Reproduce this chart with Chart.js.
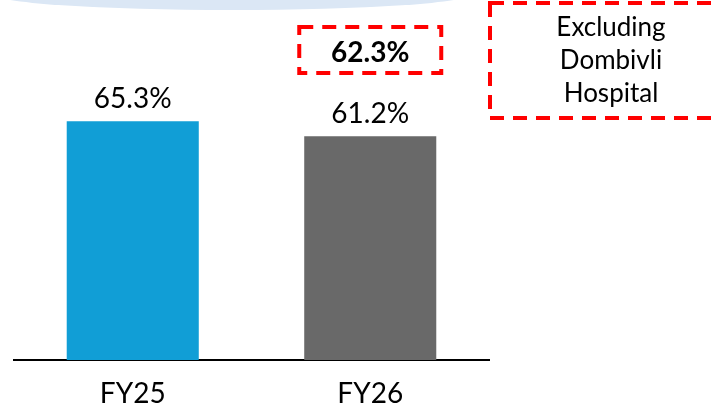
<!DOCTYPE html>
<html>
<head>
<meta charset="utf-8">
<script src="https://cdn.jsdelivr.net/npm/chart.js@4.4.0/dist/chart.umd.min.js"></script>
<style>
  html, body { margin: 0; padding: 0; background: #ffffff; }
  #wrap { width: 718px; height: 411px; }
</style>
</head>
<body>
<div id="wrap"><canvas id="c" width="718" height="411"></canvas></div>
<script>
// ---- data ----
const categories = ['FY25', 'FY26'];
const values = [65.3, 61.2];
const excludingDombivli = [null, 62.3];
const noteLines = ['Excluding', 'Dombivli', 'Hospital'];

const FONT = 'Lato, "Open Sans", sans-serif';

const decorPlugin = {
  id: 'decor',
  beforeDraw(chart) {
    const ctx = chart.ctx;
    ctx.save();
    // light blue banner shape at top
    ctx.fillStyle = '#dbe7f5';
    ctx.beginPath();
    ctx.ellipse(232, -6, 240, 16, 0, 0, Math.PI * 2);
    ctx.fill();
    ctx.restore();
  },
  afterDatasetsDraw(chart) {
    const ctx = chart.ctx;
    const meta = chart.getDatasetMeta(0);
    ctx.save();
    ctx.fillStyle = '#000000';
    ctx.textAlign = 'center';
    ctx.textBaseline = 'alphabetic';
    ctx.font = '28px ' + FONT;
    meta.data.forEach((bar, i) => {
      ctx.fillText(values[i].toFixed(1) + '%', bar.x, bar.y - 13);
    });
    // excluding value labels with dashed boxes
    excludingDombivli.forEach((v, i) => {
      if (v === null) return;
      const bar = meta.data[i];
      ctx.font = 'bold 28px ' + FONT;
      ctx.fillStyle = '#000000';
      ctx.fillText(v.toFixed(1) + '%', bar.x, 62);
      ctx.strokeStyle = '#ff0000';
      ctx.lineWidth = 4;
      ctx.setLineDash([14, 9]);
      ctx.strokeRect(bar.x - 71, 27, 142, 46);
    });
    // note box
    ctx.setLineDash([14, 9]);
    ctx.strokeStyle = '#ff0000';
    ctx.lineWidth = 4;
    ctx.strokeRect(490, 3, 260, 115);
    ctx.setLineDash([]);
    ctx.font = '26px ' + FONT;
    ctx.fillStyle = '#000000';
    noteLines.forEach((t, k) => {
      ctx.fillText(t, 611, 36 + k * 33);
    });
    ctx.restore();
  }
};

new Chart(document.getElementById('c'), {
  type: 'bar',
  data: {
    labels: categories,
    datasets: [{
      data: values,
      backgroundColor: ['#119ed6', '#696969'],
      borderWidth: 0,
      categoryPercentage: 1,
      barPercentage: 0.556
    }]
  },
  options: {
    responsive: false,
    devicePixelRatio: 1,
    animation: false,
    layout: { padding: { left: 14, right: 229, top: 31, bottom: 0 } },
    plugins: { legend: { display: false }, tooltip: { enabled: false } },
    scales: {
      y: { display: false, min: 0, max: 90 },
      x: {
        grid: { display: false, drawTicks: false },
        border: { display: true, color: '#000000', width: 2 },
        ticks: { color: '#000000', font: { family: FONT, size: 28 }, padding: 17 },
        afterFit(scale) { scale.height = 51; }
      }
    }
  },
  plugins: [decorPlugin]
});
</script>
</body>
</html>
